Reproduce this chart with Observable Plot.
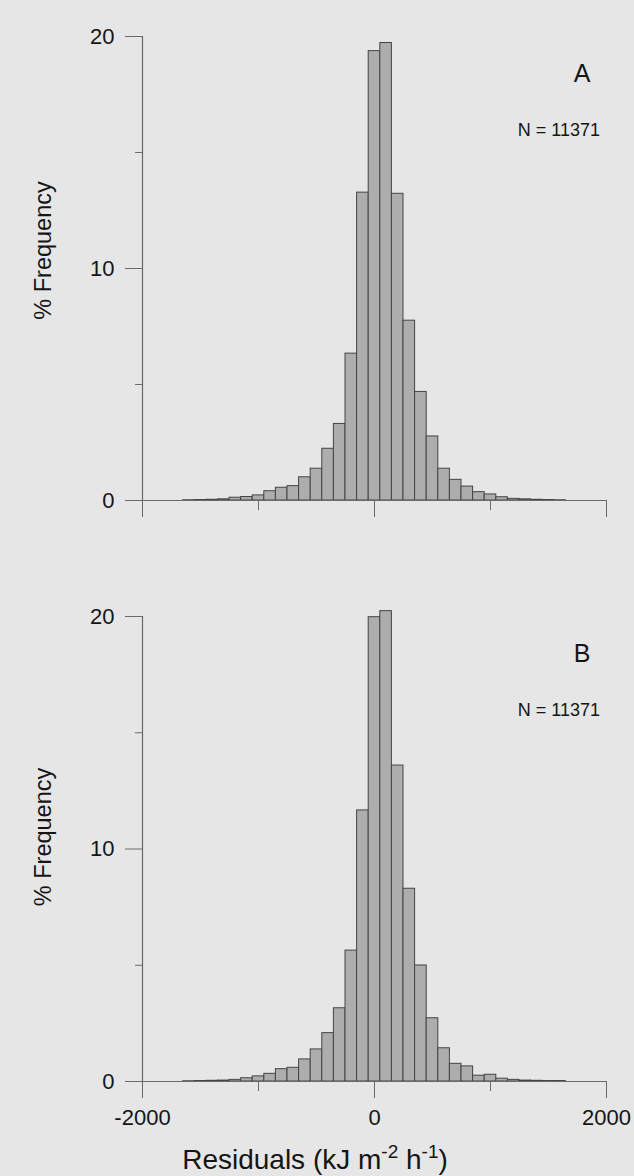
<!DOCTYPE html>
<html>
<head>
<meta charset="utf-8">
<script src="https://cdn.jsdelivr.net/npm/d3@7"></script>
<script src="https://cdn.jsdelivr.net/npm/@observablehq/plot@0.6"></script>
<style>
  html, body { margin: 0; padding: 0; background: #e6e6e6; }
  #wrap { position: relative; width: 634px; height: 1176px; overflow: hidden;
          font-family: "Liberation Sans", Arial, sans-serif; color: #151515; }
  #top, #bottom { position: absolute; left: 0; }
  #top { top: 0; }
  #bottom { top: 560px; }
  #xtitle { position: absolute; left: 315px; top: 1146px; transform: translateX(-50%);
            font-size: 28px; line-height: 28px; height: 28px; white-space: nowrap; }
  #xtitle sup { font-size: 19px; line-height: 0; vertical-align: 0; position: relative; top: -11px; }
</style>
</head>
<body>
<div id="wrap">
  <div id="top"></div>
  <div id="bottom"></div>
  <div id="xtitle">Residuals (kJ m<sup>-2</sup> h<sup>-1</sup>)</div>
</div>
<script>
// Bin centres (kJ m-2 h-1), bins 100 wide
const binCenters = [-1600, -1500, -1400, -1300, -1200, -1100, -1000, -900, -800, -700, -600,
  -500, -400, -300, -200, -100, 0, 100, 200, 300, 400, 500, 600, 700, 800, 900, 1000,
  1100, 1200, 1300, 1400, 1500, 1600];
// % frequency, panel A
const freqA = [0.01, 0.02, 0.03, 0.05, 0.12, 0.15, 0.22, 0.40, 0.55, 0.62, 1.00,
  1.37, 2.23, 3.30, 6.33, 13.27, 19.37, 19.72, 13.22, 7.75, 4.68, 2.76, 1.37, 0.89, 0.60, 0.36, 0.26,
  0.14, 0.07, 0.05, 0.03, 0.02, 0.01];
// % frequency, panel B
const freqB = [0.01, 0.02, 0.03, 0.04, 0.07, 0.14, 0.22, 0.33, 0.53, 0.59, 0.95,
  1.38, 2.08, 3.15, 5.63, 11.66, 19.97, 20.23, 13.59, 8.29, 4.99, 2.72, 1.43, 0.76, 0.65, 0.25, 0.29,
  0.12, 0.07, 0.04, 0.03, 0.02, 0.02];
const binWidth = 100;
const yTicksMajor = [0, 10, 20];
const yTicksMinor = [5, 15];
const xTicksMajor = [-2000, 0, 2000];
const xTicksMinor = [-1000, 1000];
const panelLabels = ["A", "B"];
const nText = "N = 11371";
const yTitle = "% Frequency";

const FONT = '"Liberation Sans", Arial, sans-serif';
const AXIS = "#6a6a6a";
const INK = "#151515";

function panel(freq, letter, bottom) {
  const data = binCenters.map((c, i) => ({x1: c - binWidth / 2, x2: c + binWidth / 2, y: freq[i]}));
  return Plot.plot({
    width: 634,
    height: bottom ? 616 : 560,
    marginLeft: 142,
    marginRight: 28,
    marginTop: bottom ? 56 : 36,
    marginBottom: bottom ? 95 : 60,
    x: {domain: [-2000, 2000]},
    y: {domain: [0, 20]},
    style: {background: "transparent", fontFamily: FONT, color: INK, overflow: "visible"},
    marks: [
      Plot.rectY(data, {x1: "x1", x2: "x2", y: "y", fill: "#adadad", stroke: "#444444", strokeWidth: 1}),
      Plot.ruleY([0], {stroke: AXIS, strokeWidth: 1.2}),
      Plot.ruleX([-2000], {stroke: AXIS, strokeWidth: 1.2}),
      Plot.axisY(yTicksMajor, {tickSize: 17, tickPadding: 11, fontSize: 22, label: null, stroke: AXIS, fill: INK}),
      Plot.axisY(yTicksMinor, {tickSize: 7, tickFormat: () => "", label: null, stroke: AXIS}),
      bottom
        ? Plot.axisX(xTicksMajor, {tickSize: 17, tickPadding: 11, fontSize: 22, tickFormat: d => String(d), label: null, stroke: AXIS, fill: INK})
        : Plot.axisX(xTicksMajor, {tickSize: 17, tickFormat: () => "", label: null, stroke: AXIS}),
      Plot.axisX(xTicksMinor, {tickSize: 10, tickFormat: () => "", label: null, stroke: AXIS}),
      Plot.text([letter], {x: 1790, y: 18.4, text: d => d, fontSize: 25, fill: INK}),
      Plot.text([nText], {x: 1590, y: 15.95, text: d => d, fontSize: 18, fill: INK}),
      Plot.text([yTitle], {frameAnchor: "left", textAnchor: "middle", dx: -99, dy: bottom ? -12 : -18, rotate: -90, text: d => d, fontSize: 23.5, fill: INK})
    ]
  });
}

document.getElementById("top").append(panel(freqA, panelLabels[0], false));
document.getElementById("bottom").append(panel(freqB, panelLabels[1], true));
</script>
</body>
</html>
